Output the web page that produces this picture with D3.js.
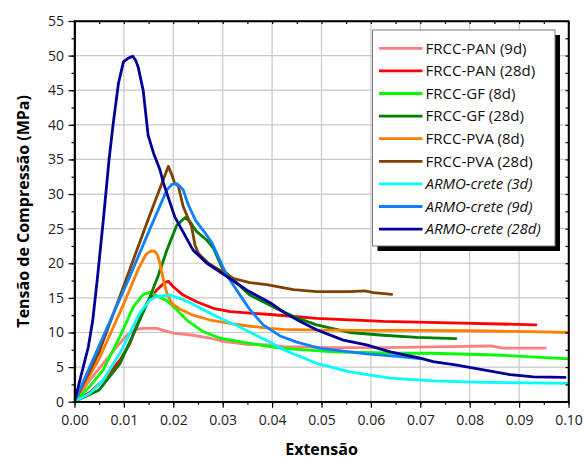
<!DOCTYPE html>
<html><head><meta charset="utf-8">
<script src="https://cdn.jsdelivr.net/npm/d3@7"></script>
<style>body{margin:0;background:#fff}svg{display:block}</style>
</head><body><svg id="c" width="584" height="459"></svg>
<script>
const xTicks = [0,0.01,0.02,0.03,0.04,0.05,0.06,0.07,0.08,0.09,0.10];
const yTicks = [0,5,10,15,20,25,30,35,40,45,50,55];
const seriesNames = ["FRCC-PAN (9d)","FRCC-PAN (28d)","FRCC-GF (8d)","FRCC-GF (28d)","FRCC-PVA (8d)","FRCC-PVA (28d)","ARMO-crete (3d)","ARMO-crete (9d)","ARMO-crete (28d)"];
const seriesColors = ["#ff8080","#ff0000","#00ff00","#008000","#ff8000","#804000","#00ffff","#1080ff","#000099"];
const seriesItalic = [false,false,false,false,false,false,true,true,true];

const pan9 = [[0,0],[0.0031,3.1],[0.0058,5.5],[0.0085,7.9],[0.0106,9.6],[0.0126,10.5],[0.0145,10.6],[0.0166,10.6],[0.018,10.3],[0.02,9.9],[0.024,9.6],[0.0274,9.2],[0.0301,8.7],[0.0349,8.3],[0.0396,8.2],[0.0423,7.95],[0.0524,7.8],[0.0625,7.8],[0.0761,7.95],[0.0842,8.05],[0.0868,7.75],[0.0953,7.75]];
const pan28 = [[0,0],[0.003,1.3],[0.0058,3.1],[0.0092,6.0],[0.0112,8.4],[0.0126,11.0],[0.0146,14.2],[0.0166,16.1],[0.0182,17.2],[0.019,17.4],[0.02,16.6],[0.022,15.4],[0.0247,14.45],[0.0281,13.5],[0.0315,13.0],[0.0355,12.8],[0.0396,12.6],[0.049,12.05],[0.0625,11.6],[0.0761,11.4],[0.0934,11.1]];
const gf8 = [[0,0],[0.0031,2.2],[0.0058,4.6],[0.0092,9.4],[0.0119,13.7],[0.0139,15.5],[0.0153,15.8],[0.0166,15.3],[0.0187,14.6],[0.0207,13.3],[0.0227,11.8],[0.0261,10.1],[0.0294,9.2],[0.0349,8.5],[0.0396,7.95],[0.0423,7.7],[0.0524,7.2],[0.0659,7.0],[0.072,7.0],[0.0854,6.75],[0.1,6.2]];
const gf28 = [[0,0],[0.005,1.7],[0.0092,5.5],[0.0126,10.8],[0.0153,15.2],[0.017,18.3],[0.0187,21.9],[0.0207,25.5],[0.0224,26.6],[0.0234,26.0],[0.0247,24.6],[0.0267,23.4],[0.0281,22.2],[0.0301,19.0],[0.0328,17.2],[0.0355,15.4],[0.0402,13.7],[0.045,12.1],[0.049,11.1],[0.0557,10.0],[0.0625,9.6],[0.0693,9.3],[0.0772,9.1]];
const pva8 = [[0,0],[0.005,6.2],[0.01,14.2],[0.013,19.3],[0.0145,21.3],[0.0155,21.8],[0.0163,21.7],[0.0168,21.2],[0.0173,20.0],[0.018,17.6],[0.0187,15.7],[0.0197,14.2],[0.0214,13.35],[0.024,12.5],[0.0274,11.8],[0.0315,11.3],[0.0355,10.9],[0.0396,10.6],[0.0423,10.45],[0.05,10.35],[0.06,10.3],[0.07,10.3],[0.08,10.25],[0.09,10.15],[0.1,10.0]];
const pva28 = [[0,0],[0.005,7.2],[0.01,16.8],[0.015,26.5],[0.019,34.0],[0.0197,32.8],[0.0203,31.5],[0.021,31.2],[0.022,28.2],[0.0237,25.3],[0.0244,22.6],[0.0251,21.4],[0.0271,20.0],[0.0294,19.0],[0.0322,17.8],[0.0355,17.2],[0.0389,16.9],[0.0443,16.2],[0.049,15.9],[0.0557,15.9],[0.0588,16.0],[0.0605,15.75],[0.0642,15.5]];
const armo3 = [[0,0],[0.0031,1.2],[0.0058,3.1],[0.0092,7.0],[0.0112,9.9],[0.0132,12.8],[0.0153,14.7],[0.0166,15.2],[0.0193,15.4],[0.0214,14.9],[0.0234,14.3],[0.0261,13.3],[0.0294,12.1],[0.0328,11.0],[0.0362,9.8],[0.0396,8.6],[0.0423,7.5],[0.049,5.55],[0.0557,4.3],[0.0639,3.4],[0.0726,3.0],[0.0828,2.8],[0.1,2.65]];
const armo9 = [[0,0],[0.005,8.1],[0.0109,17.6],[0.0153,25.0],[0.0187,30.6],[0.0197,31.4],[0.0207,31.5],[0.0215,31.0],[0.022,30.6],[0.023,28.5],[0.0245,26.2],[0.0263,24.5],[0.0278,23.0],[0.0292,20.8],[0.0308,18.3],[0.0335,15.4],[0.0355,13.3],[0.0382,11.1],[0.0416,9.5],[0.045,8.6],[0.0497,7.7],[0.0524,7.5],[0.0591,6.9],[0.0659,6.5],[0.0703,6.2]];
const armo28 = [[0,0],[0.0018,5.1],[0.0028,7.9],[0.0037,11.8],[0.0046,17.6],[0.0058,26.0],[0.007,35.0],[0.0078,40.0],[0.0089,46.0],[0.0099,49.1],[0.0108,49.6],[0.0118,49.9],[0.0124,49.3],[0.0129,48.3],[0.0139,45.0],[0.0149,38.5],[0.016,35.9],[0.0173,33.5],[0.018,31.6],[0.0203,26.7],[0.024,21.9],[0.0268,20.0],[0.0308,18.1],[0.0349,16.1],[0.0396,14.3],[0.0424,12.9],[0.0457,11.6],[0.049,10.4],[0.0544,8.9],[0.0591,8.2],[0.0639,7.2],[0.07,6.3],[0.0726,5.8],[0.0774,5.3],[0.0828,4.6],[0.0882,3.9],[0.0929,3.6],[0.0993,3.5]];
const seriesData = [pan9,pan28,gf8,gf28,pva8,pva28,armo3,armo9,armo28];

const FONT = "'Open Sans', sans-serif";
const svg = d3.select("#c");
const L = 74.5, R = 568.5, T = 21, B = 401.7;
const x = d3.scaleLinear().domain([0,0.1]).range([L,R]);
const y = d3.scaleLinear().domain([0,55]).range([B,T]);

// grid
const g = svg.append("g");
g.selectAll(".gx").data(xTicks.slice(1,-1)).join("line")
  .attr("x1",d=>x(d)).attr("x2",d=>x(d)).attr("y1",T).attr("y2",B)
  .attr("stroke","#c8c8c8").attr("stroke-width",1.2);
g.selectAll(".gy").data(yTicks.slice(1,-1)).join("line")
  .attr("x1",L).attr("x2",R).attr("y1",d=>y(d)).attr("y2",d=>y(d))
  .attr("stroke","#c8c8c8").attr("stroke-width",1.2);

// series
const line = d3.line().x(d=>x(d[0])).y(d=>y(d[1]));
svg.append("clipPath").attr("id","pc").append("rect").attr("x",L).attr("y",T).attr("width",R-L).attr("height",B-T);
svg.append("g").attr("clip-path","url(#pc)").selectAll("path").data(seriesData).join("path")
  .attr("d",line).attr("fill","none")
  .attr("stroke",(d,i)=>seriesColors[i]).attr("stroke-width",2.8)
  .attr("stroke-linejoin","round").attr("stroke-linecap","round");

// axes
const xMinor = d3.range(0,0.1001,0.005);
const yMinor = d3.range(0,55.01,2.5);
const ax = svg.append("g").attr("transform",`translate(0,${B})`)
  .call(d3.axisBottom(x).tickValues(xTicks).tickFormat(d3.format(".2f")).tickSize(6).tickSizeOuter(0));
const axm = svg.append("g").attr("transform",`translate(0,${B})`)
  .call(d3.axisBottom(x).tickValues(xMinor).tickFormat("").tickSize(3).tickSizeOuter(0));
const ay = svg.append("g").attr("transform",`translate(${L},0)`)
  .call(d3.axisLeft(y).tickValues(yTicks).tickSize(6).tickSizeOuter(0));
const aym = svg.append("g").attr("transform",`translate(${L},0)`)
  .call(d3.axisLeft(y).tickValues(yMinor).tickFormat("").tickSize(3).tickSizeOuter(0));
const at = svg.append("g").attr("transform",`translate(0,${T})`)
  .call(d3.axisBottom(x).tickValues(xMinor).tickFormat("").tickSize(3).tickSizeOuter(0));
const ar = svg.append("g").attr("transform",`translate(${R},0)`)
  .call(d3.axisLeft(y).tickValues(yMinor).tickFormat("").tickSize(3).tickSizeOuter(0));
[ax,axm,ay,aym,at,ar].forEach(a=>{
  a.selectAll("path").attr("stroke","#000").attr("stroke-width",1.5);
  a.selectAll("line").attr("stroke","#000").attr("stroke-width",1.2);
  a.selectAll("text").attr("font-family",FONT).attr("font-size","14px").attr("fill","#222");
});
ax.selectAll("text").attr("dy","1.05em");
ay.selectAll("text").attr("dx","-0.1em");
svg.append("rect").attr("x",L).attr("y",T).attr("width",R-L).attr("height",B-T)
  .attr("fill","none").attr("stroke","#000").attr("stroke-width",1.5);

// titles
svg.append("text").attr("x",(L+R)/2).attr("y",455).attr("text-anchor","middle")
  .attr("font-family",FONT).attr("font-weight","bold").attr("font-size","16px").text("Extensão");
svg.append("text").attr("transform",`translate(29,${(T+B)/2}) rotate(-90)`).attr("text-anchor","middle")
  .attr("font-family",FONT).attr("font-weight","bold").attr("font-size","16px").text("Tensão de Compressão (MPa)");

// legend
const lx = 372.5, ly = 30, lw = 182.5, lh = 216;
svg.append("rect").attr("x",lx+5).attr("y",ly+5).attr("width",lw).attr("height",lh).attr("fill","#000");
svg.append("rect").attr("x",lx).attr("y",ly).attr("width",lw).attr("height",lh).attr("fill","#fff").attr("stroke","#777").attr("stroke-width",1);
const rows = svg.append("g").selectAll("g").data(seriesNames).join("g")
  .attr("transform",(d,i)=>`translate(0,${48.3+i*22.6})`);
rows.append("line").attr("x1",379).attr("x2",422.5).attr("y1",0).attr("y2",0)
  .attr("stroke",(d,i)=>seriesColors[i]).attr("stroke-width",2.8);
rows.append("text").attr("x",425.5).attr("y",5.3).attr("font-family",FONT).attr("font-size","15px")
  .attr("font-style",(d,i)=>seriesItalic[i]?"italic":"normal").attr("fill","#111").text(d=>d);
</script></body></html>
